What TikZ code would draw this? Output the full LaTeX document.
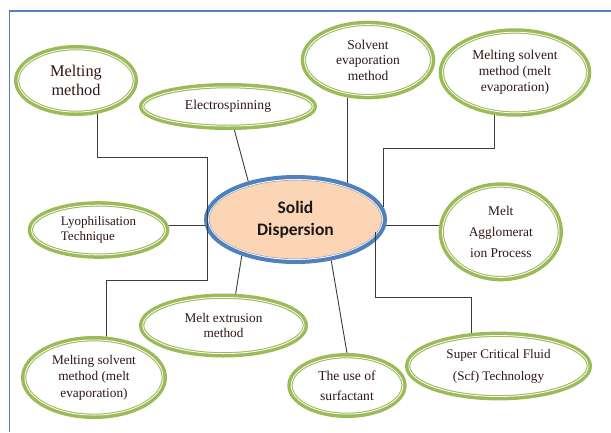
\documentclass[tikz,border=0pt]{standalone}
\usepackage{fontspec}
\setmainfont{Liberation Serif}
\newfontfamily\calfont{Carlito}
\usetikzlibrary{shapes.geometric,calc}
\definecolor{bubgreen}{RGB}{155,187,89}
\definecolor{frameblue}{RGB}{79,129,189}
\definecolor{peach}{RGB}{251,213,181}
\definecolor{innergray}{RGB}{165,165,175}
\definecolor{txt}{RGB}{50,22,22}
\definecolor{linegray}{RGB}{60,60,60}
\pgfdeclarelayer{back}
\pgfdeclarelayer{links}
\pgfsetlayers{back,links,main}
\tikzset{
  bubnode/.style={ellipse, inner sep=0pt, text=txt, align=center},
  conn/.style={draw=linegray, line width=0.9pt},
}
\newcommand\bubble[7]{%
  \fill[white] (#2,#3) ellipse [x radius=#4, y radius=#5];
  \draw[bubgreen, line width=5.3pt] (#2,#3) ellipse [x radius=#4-2.65, y radius=#5-2.65];
  \draw[white, line width=0.8pt] (#2,#3) ellipse [x radius=#4-3.9, y radius=#5-3.9];
  \node[bubnode, minimum width=2*#4pt, minimum height=2*#5pt, #6] (#1) at (#2,#3) {#7};
}
\begin{document}
\begin{tikzpicture}[x=1pt,y=-1pt]
\useasboundingbox (0,0) rectangle (611,432);
\begin{pgfonlayer}{back}
  \fill[white] (0,0) rectangle (611,432);
  \draw[frameblue, line width=1.3pt] (9.5,432) -- (9.5,11) -- (611,11);
  \fill[peach] (295.5,219.5) ellipse [x radius=86, y radius=39];
  \draw[innergray, line width=0.8pt] (295.5,219.5) ellipse [x radius=86.3, y radius=39.3];
  \draw[white, line width=0.8pt] (295.5,219.5) ellipse [x radius=87.1, y radius=40.1];
  \draw[frameblue, line width=4pt] (295.5,219.5) ellipse [x radius=89.5, y radius=42.5];
  \node[ellipse, inner sep=0pt, minimum width=183pt, minimum height=89pt,
        font=\calfont\bfseries\fontsize{17.5}{22}\selectfont, align=center, text=black!90]
        (sd) at (295.5,219.5) {Solid\\Dispersion};
\end{pgfonlayer}

\bubble{mm}{76}{80.5}{62}{35.5}{font=\fontsize{16.3}{18.5}\selectfont}{Melting\\method}
\bubble{es}{228}{106.5}{89}{23.5}{font=\fontsize{13.6}{15.5}\selectfont}{Electrospinning}
\bubble{se}{368}{60}{67.3}{39.3}{font=\fontsize{13.5}{15.5}\selectfont}{Solvent\\evaporation\\method}
\bubble{ms1}{515}{72.5}{76.3}{44.2}{font=\fontsize{13.5}{15.8}\selectfont}{Melting solvent\\method (melt\\evaporation)}
\bubble{ma}{500.8}{231.8}{62.2}{49.5}{font=\fontsize{13.4}{21}\selectfont}{Melt\\Agglomerat\\ion Process}
\bubble{ly}{98.5}{230}{70.8}{28.8}{font=\fontsize{13}{15}\selectfont, align=left}{Lyophilisation\\Technique}
\bubble{me}{223.5}{325.5}{84.5}{32}{font=\fontsize{13.3}{15.6}\selectfont}{Melt extrusion\\method}
\bubble{ms2}{94}{377.5}{73}{41.5}{font=\fontsize{13.3}{16.3}\selectfont}{Melting solvent\\method (melt\\evaporation)}
\bubble{su}{347}{385.5}{59.7}{32.5}{font=\fontsize{13.6}{20}\selectfont}{The use of\\surfactant}
\bubble{sc}{498.5}{366}{93.5}{34.4}{font=\fontsize{13.1}{22}\selectfont}{Super Critical Fluid\\(Scf) Technology}

\begin{pgfonlayer}{links}
  \coordinate (j1) at (207,157);
  \coordinate (j2) at (207,280);
  \coordinate (h3) at (0,148);
  \coordinate (h4) at (0,297);
  \coordinate (s5) at ([xshift=79.5pt,yshift=-12.5pt]sd.center);
  \draw[conn] ([xshift=21pt]mm.center) |- (j1) -- (j2) -| ([xshift=12pt]ms2.center);
  \draw[conn] (es.center) -- (sd.141);
  \draw[conn] (sd.35) -- (sd.35 |- se.center);
  \draw[conn] ([xshift=-21pt]ms1.center) |- (h3 -| sd.8) -- (sd.8);
  \draw[conn] (sd.-4) -- (sd.-4 -| ma.center);
  \draw[conn] (sd.184) -- (sd.184 -| ly.center);
  \draw[conn] (sd.214) -- ([xshift=7pt]me.center);
  \draw[conn] (sd.-49) -- ([xshift=5.5pt]su.center);
  \draw[conn] (s5) -- (s5 |- h4) -| ([xshift=-27.5pt]sc.center);
\end{pgfonlayer}
\end{tikzpicture}
\end{document}
